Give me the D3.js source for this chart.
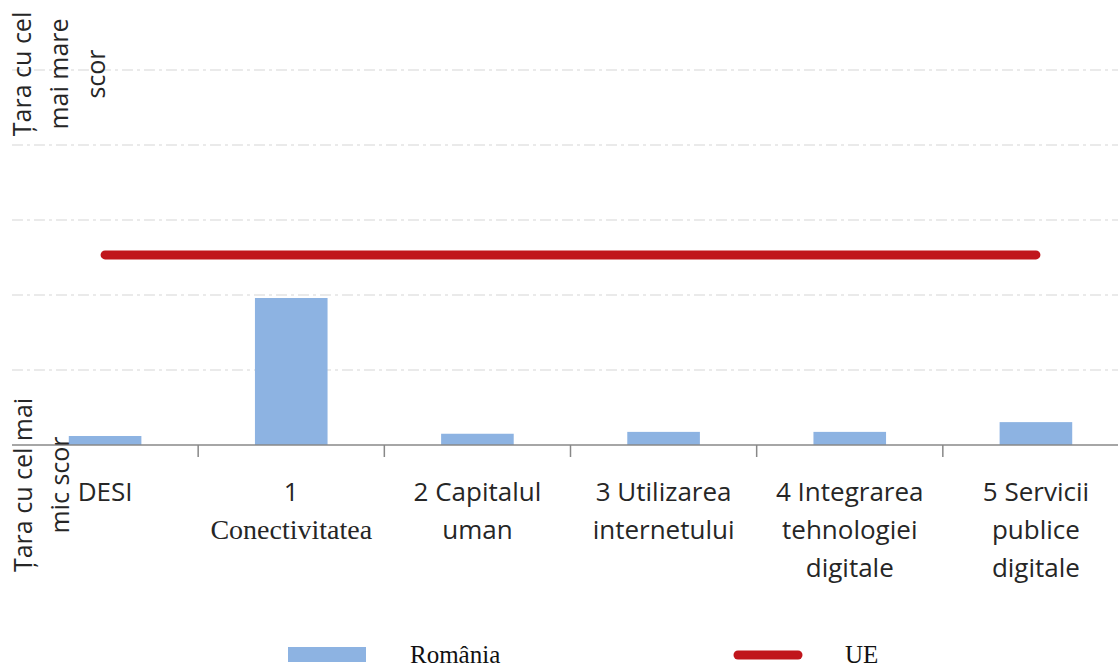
<!DOCTYPE html>
<html>
<head>
<meta charset="utf-8">
<script src="https://cdn.jsdelivr.net/npm/d3@7"></script>
<style>
  body { margin: 0; background: #fff; }
  svg { display: block; }
</style>
</head>
<body>
<svg id="chart" width="1118" height="667"></svg>
<script>
// categories (label lines as shown under the axis)
const categories = ['DESI', 'Conectivitatea', 'Capitalul', 'Utilizarea', 'Integrarea', 'Servicii'];
const categoryLines = [
  ['DESI'],
  ['1', 'Conectivitatea'],
  ['2 Capitalul', 'uman'],
  ['3 Utilizarea', 'internetului'],
  ['4 Integrarea', 'tehnologiei', 'digitale'],
  ['5 Servicii', 'publice', 'digitale']
];
// score position between lowest (0) and highest (100) country
const romania = [2.4, 39.2, 3.0, 3.5, 3.5, 6.1];
const ue = [50.7, 50.7, 50.7, 50.7, 50.7, 50.7];
const gridTicks = [20, 40, 60, 80, 100];
const topLabel = ['Țara cu cel', 'mai mare', 'scor'];
const bottomLabel = ['Țara cu cel mai', 'mic scor'];

const svg = d3.select('#chart');
const sans = 'Open Sans, sans-serif';
const serif = 'Liberation Serif, Times New Roman, serif';

const x = d3.scaleBand().domain(categories).range([12, 1129]).padding(0);
const y = d3.scaleLinear().domain([0, 100]).range([445, 70]);
const barW = x.bandwidth() * 0.39;

// gridlines
svg.append('g').selectAll('line')
  .data(gridTicks)
  .join('line')
  .attr('x1', 12).attr('x2', 1118)
  .attr('y1', d => y(d)).attr('y2', d => y(d))
  .attr('stroke', '#d6d6d6')
  .attr('stroke-width', 1.2)
  .attr('stroke-dasharray', '11,4,3,4');

// bars
svg.append('g').selectAll('rect')
  .data(romania)
  .join('rect')
  .attr('x', (d, i) => x(categories[i]) + (x.bandwidth() - barW) / 2)
  .attr('y', d => y(d))
  .attr('width', barW)
  .attr('height', d => y(0) - y(d))
  .attr('fill', '#8db3e2');

// baseline + ticks
svg.append('line')
  .attr('x1', 12).attr('x2', 1118)
  .attr('y1', y(0)).attr('y2', y(0))
  .attr('stroke', '#888').attr('stroke-width', 1.5);
svg.append('g').selectAll('line')
  .data(categories.slice(1))
  .join('line')
  .attr('x1', d => x(d)).attr('x2', d => x(d))
  .attr('y1', y(0)).attr('y2', y(0) + 12)
  .attr('stroke', '#888').attr('stroke-width', 1.5);

// UE line
const line = d3.line()
  .x((d, i) => x(categories[i]) + x.bandwidth() / 2)
  .y(d => y(d));
svg.append('path')
  .datum(ue)
  .attr('d', line)
  .attr('fill', 'none')
  .attr('stroke', '#c0161c')
  .attr('stroke-width', 9)
  .attr('stroke-linecap', 'round');

// category labels
const lab = svg.append('g').selectAll('text')
  .data(categoryLines)
  .join('text')
  .attr('text-anchor', 'middle')
  .attr('fill', '#262626');
lab.selectAll('tspan')
  .data((d, i) => d.map(t => ({t, i})))
  .join('tspan')
  .attr('x', d => x(categories[d.i]) + x.bandwidth() / 2)
  .attr('y', (d, j) => 501 + j * 38)
  .attr('font-family', d => d.t === 'Conectivitatea' ? serif : sans)
  .attr('font-size', d => d.t === 'Conectivitatea' ? 28 : 26)
  .text(d => d.t);

// rotated y-axis labels
function vLabel(lines, cy, x0) {
  svg.append('g').selectAll('text')
    .data(lines)
    .join('text')
    .attr('transform', (d, i) => `translate(${x0 + i * 37},${cy}) rotate(-90)`)
    .attr('text-anchor', 'middle')
    .attr('fill', '#262626')
    .attr('font-size', 25)
    .attr('font-family', sans)
    .text(d => d);
}
vLabel(topLabel, 74, 31);
vLabel(bottomLabel, 485, 32);

// legend
svg.append('rect')
  .attr('x', 288).attr('y', 647).attr('width', 78).attr('height', 15)
  .attr('fill', '#8db3e2');
svg.append('text')
  .attr('x', 410).attr('y', 663)
  .attr('font-family', serif).attr('font-size', 25).attr('fill', '#111')
  .text('România');
svg.append('line')
  .attr('x1', 738).attr('x2', 798).attr('y1', 655).attr('y2', 655)
  .attr('stroke', '#c0161c').attr('stroke-width', 9).attr('stroke-linecap', 'round');
svg.append('text')
  .attr('x', 845).attr('y', 663)
  .attr('font-family', serif).attr('font-size', 25).attr('fill', '#111')
  .text('UE');
</script>
</body>
</html>
